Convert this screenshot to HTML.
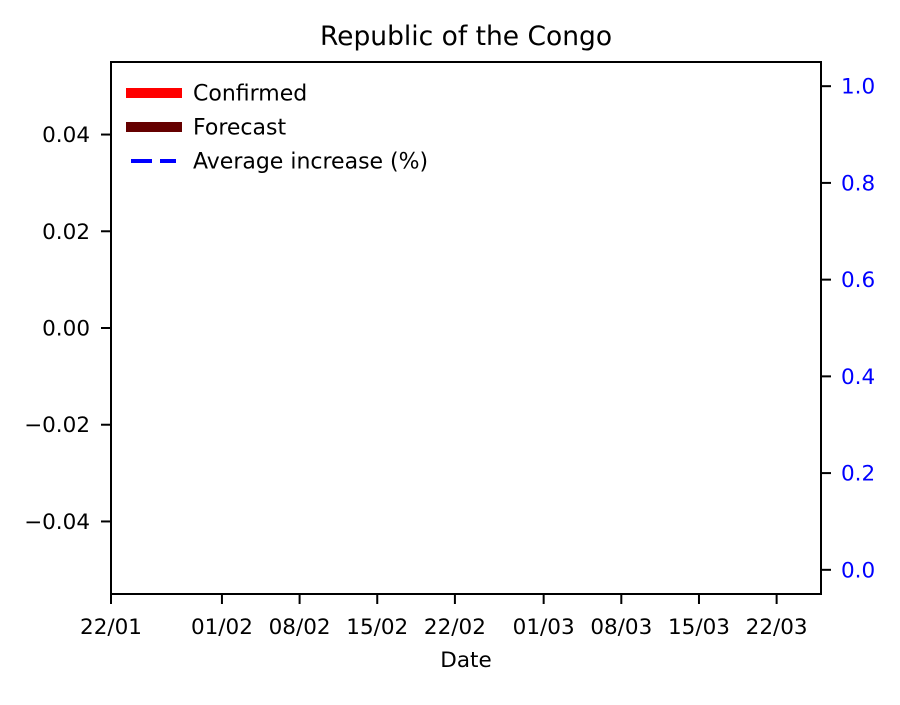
<!DOCTYPE html>
<html><head><meta charset="utf-8"><style>
body{margin:0;background:#fff;}
svg text{font-family:"DejaVu Sans","Liberation Sans",sans-serif;}
</style></head><body>
<svg id="chart" width="900" height="700" xmlns="http://www.w3.org/2000/svg"></svg>
<script>
const xTickLabels=["22/01","01/02","08/02","15/02","22/02","01/03","08/03","15/03","22/03"];
const xTickDays=[0,10,17,24,31,39,46,53,60];
const leftTicks=[-0.04,-0.02,0.00,0.02,0.04];
const rightTicks=[0.0,0.2,0.4,0.6,0.8,1.0];
const confirmed=[];
const forecast=[];
const avgIncrease=[];
const L=111,R=821,T=62,B=594;
const xDomain=[0,64];
const yL=[-0.055,0.055], yR=[-0.05,1.05];
const sx=d=>L+(d-xDomain[0])/(xDomain[1]-xDomain[0])*(R-L);
const syL=v=>B-(v-yL[0])/(yL[1]-yL[0])*(B-T);
const syR=v=>B-(v-yR[0])/(yR[1]-yR[0])*(B-T);
const svg=document.getElementById('chart');
const NS="http://www.w3.org/2000/svg";
function mk(tag,attrs,txt){const e=document.createElementNS(NS,tag);for(const k in attrs)e.setAttribute(k,attrs[k]);if(txt!==undefined)e.textContent=txt;svg.appendChild(e);return e;}
let e;
e=mk('text',{x:466,y:45,'text-anchor':'middle','font-size':26.5},'Republic of the Congo');


e=mk('rect',{x:L,y:T,width:R-L,height:B-T,fill:'none',stroke:'#000','stroke-width':2});


leftTicks.forEach(v=>{const y=syL(v);
 e=mk('line',{x1:L-10,x2:L,y1:y,y2:y,stroke:'#000','stroke-width':2});
 
 
 e=mk('text',{x:L-21,y:y+7.5,'text-anchor':'end','font-size':21.5},(v<0?'\u2212':'')+Math.abs(v).toFixed(2));
 
 
});
rightTicks.forEach(v=>{const y=syR(v);
 e=mk('line',{x1:R,x2:R+10,y1:y,y2:y,stroke:'#000','stroke-width':2});
 
 
 e=mk('text',{x:R+20,y:y+7.5,'font-size':21.5,fill:'#0000ff'},v.toFixed(1));
 
 
});
xTickDays.forEach((d,i)=>{const x=sx(d);
 e=mk('line',{x1:x,x2:x,y1:B,y2:B+10,stroke:'#000','stroke-width':2});
 
 
 e=mk('text',{x:x,y:634,'text-anchor':'middle','font-size':21.5},xTickLabels[i]);
 
 
});
e=mk('text',{x:466,y:667,'text-anchor':'middle','font-size':21.5},'Date');


function line(arr,sy,stroke,w,dash,name){if(!arr.length)return;
 const d=arr.map((v,i)=>(i?'L':'M')+sx(i)+','+sy(v)).join('');
 e=mk('path',{d:d,fill:'none',stroke:stroke,'stroke-width':w,'stroke-dasharray':dash||'none'});
 
 }
line(confirmed,syL,'#ff0000',10,null,'confirmed-line');
line(forecast,syL,'#6b0000',10,null,'forecast-line');
line(avgIncrease,syR,'#0000ff',4,'20,8','average-increase-line');
const leg=[["Confirmed","#ff0000",10,null,93,126,182],["Forecast","#650000",10,null,127,126,182],["Average increase (%)","#0000ff",4,"21,8",161,131,176]];
leg.forEach(l=>{
 e=mk('line',{x1:l[5],x2:l[6],y1:l[4],y2:l[4],stroke:l[1],'stroke-width':l[2],'stroke-dasharray':l[3]||'none'});
 
 
 e=mk('text',{x:193,y:l[4]+7.5,'font-size':22},l[0]);
 
 
});
</script>
</body></html>
